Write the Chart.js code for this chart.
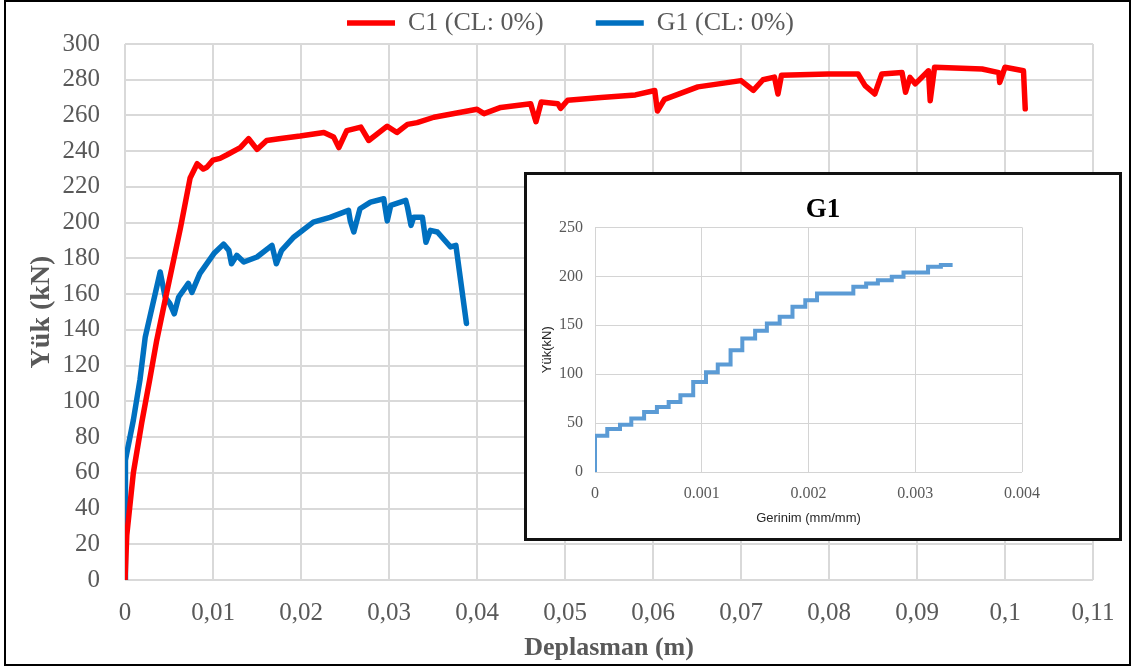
<!DOCTYPE html>
<html>
<head>
<meta charset="utf-8">
<title>Yük - Deplasman</title>
<script src="https://cdn.jsdelivr.net/npm/chart.js@4.4.1/dist/chart.umd.min.js"></script>
<style>
  html, body { margin: 0; padding: 0; background: #fff; }
  #wrap { position: relative; width: 1136px; height: 668px; overflow: hidden; }
  #mainChart { position: absolute; left: 0; top: 0; }
  #frame { position: absolute; left: 4px; top: 0; width: 1123px; height: 662px; border: 2px solid #000; pointer-events: none; }
  #insetBox { position: absolute; left: 524px; top: 172px; width: 592px; height: 363px; border: 3px solid #111; background: #fff; }
</style>
</head>
<body>
<div id="wrap">
  <canvas id="mainChart" width="1136" height="668"></canvas>
  <div id="insetBox"><canvas id="insetChart" width="592" height="363"></canvas></div>
  <div id="frame"></div>
</div>
<script>
// main chart: load vs displacement
const mainXTicks = [0, 0.01, 0.02, 0.03, 0.04, 0.05, 0.06, 0.07, 0.08, 0.09, 0.1, 0.11];
const mainXLabels = ['0', '0,01', '0,02', '0,03', '0,04', '0,05', '0,06', '0,07', '0,08', '0,09', '0,1', '0,11'];
const mainYTicks = [0, 20, 40, 60, 80, 100, 120, 140, 160, 180, 200, 220, 240, 260, 280, 300];

const c1X = [0, 0.0002, 0.0005, 0.00095, 0.0019, 0.0028, 0.0036, 0.0047, 0.0063, 0.0074, 0.0082, 0.0089, 0.0093,
    0.0100, 0.0108, 0.0116, 0.0131, 0.01405, 0.0150, 0.0161, 0.0175, 0.0199, 0.0226, 0.0237, 0.0243, 0.0252,
    0.0268, 0.0277, 0.0298, 0.0309, 0.0321, 0.0332, 0.0351, 0.0400, 0.0408, 0.0427, 0.0461, 0.0467, 0.0473,
    0.0492, 0.0495, 0.0503, 0.0541, 0.0580, 0.0602, 0.0605, 0.0613, 0.0651, 0.0700, 0.0714, 0.0725, 0.0738,
    0.0742, 0.0746, 0.0799, 0.0833, 0.0841, 0.0852, 0.0860, 0.0883, 0.0887, 0.0892, 0.0898, 0.0913, 0.0915,
    0.0920, 0.0974, 0.0993, 0.0994, 0.1000, 0.1021, 0.1023];
const c1Y = [0, 25, 39, 60, 88, 112, 134, 160, 197, 225, 233, 230, 231,
    235, 236, 238, 242, 247, 241, 246, 247, 248.5, 250.5, 248, 242, 251.5,
    253.5, 246, 254, 250.5, 255, 256, 259, 263.5, 261, 264.5, 266.5, 256.5, 267.5,
    266.5, 264, 268.5, 270, 271.5, 274, 262.5, 269, 276, 279.5, 274, 280, 281.5,
    272, 282.5, 283.2, 283.2, 276.7, 272, 283.2, 284, 273, 281.3, 277.7, 285, 268.3,
    287, 286, 284, 278.5, 287, 285, 263.7];

const g1X = [0, 0.00005, 0.0002, 0.00095, 0.0017, 0.0023, 0.0040, 0.00456, 0.0051, 0.0056, 0.0061, 0.0072, 0.0076,
    0.0085, 0.0101, 0.0112, 0.0118, 0.0121, 0.0127, 0.0135, 0.0150, 0.0167, 0.0172, 0.0178, 0.0192, 0.0214,
    0.0233, 0.0254, 0.0256, 0.0260, 0.0267, 0.0279, 0.0294, 0.0298, 0.0302, 0.0319, 0.0321, 0.0325, 0.0328,
    0.0338, 0.0342, 0.0347, 0.0355, 0.0370, 0.0376, 0.0388];
const g1Y = [0, 67, 71, 89.5, 112, 136, 172.4, 158.4, 154.7, 149, 158.4, 166, 161,
    171.5, 182.7, 188, 184.5, 177, 181.7, 178, 180.8, 187.3, 177, 184.5, 192, 200.3,
    203, 206.9, 201, 194.8, 207.8, 211.5, 213.4, 201, 209.7, 212.5, 208.7, 198.5, 203,
    203, 189, 195.7, 194.8, 186.4, 187.3, 143.6];

// inset chart: G1 load vs strain (stepped)
const insetXTicks = [0, 0.001, 0.002, 0.003, 0.004];
const insetXLabels = ['0', '0.001', '0.002', '0.003', '0.004'];
const insetYTicks = [0, 50, 100, 150, 200, 250];

const strainX = [0, 0, 0.000115, 0.000234, 0.00034, 0.00046, 0.00058, 0.00069, 0.0008, 0.00092, 0.00104,
    0.00115, 0.00127, 0.00138, 0.0015, 0.00161, 0.00173, 0.00185, 0.00197, 0.00208, 0.00242, 0.00254,
    0.00265, 0.00278, 0.00289, 0.00312, 0.00324, 0.00335];
const strainY = [0, 37, 44, 48.4, 54.6, 61.4, 66.5, 71.6, 78.4, 92, 102,
    110, 124.5, 136.4, 144.3, 151.8, 158.6, 168.8, 175.6, 182.5, 189.3, 192.7,
    196, 199.5, 204, 209.8, 211.5, 211.5];

const GRAY = '#595959';
const SERIF = 'Liberation Serif';

function toPoints(xs, ys) {
    return xs.map((x, i) => ({ x: x, y: ys[i] }));
}

function fixedTicks(values) {
    return scale => { scale.ticks = values.map(v => ({ value: v })); };
}

// keeps the legend at a set height and lifts it so the row sits near the top
const legendBoxPlugin = {
    id: 'legendBox',
    beforeUpdate(chart) {
        const legend = chart.legend;
        if (legend && !legend._fixedFit) {
            const fit = legend.fit;
            legend.fit = function () {
                fit.call(this);
                this.height = 44;
            };
            legend._fixedFit = true;
        }
    },
    afterLayout(chart) {
        chart.legend.top -= 42;
        chart.legend.left += 24; // nudge the row right, like the original
        chart.legend.right += 24;
    }
};

function renderMainChart() {
    const ctx = document.getElementById('mainChart').getContext('2d');
    return new Chart(ctx, {
        type: 'line',
        data: {
            datasets: [{
                label: 'C1 (CL: 0%)',
                data: toPoints(c1X, c1Y),
                borderColor: '#FF0000',
                backgroundColor: '#FF0000',
                borderWidth: 5.5,
                borderCapStyle: 'round',
                borderJoinStyle: 'round',
                pointRadius: 0,
                tension: 0
            }, {
                label: 'G1 (CL: 0%)',
                data: toPoints(g1X, g1Y),
                borderColor: '#0070C0',
                backgroundColor: '#0070C0',
                borderWidth: 5.5,
                borderCapStyle: 'round',
                borderJoinStyle: 'round',
                pointRadius: 0,
                tension: 0
            }]
        },
        options: {
            responsive: false,
            animation: false,
            layout: { padding: { top: 0, left: 0, right: 43, bottom: 0 } },
            plugins: {
                tooltip: { enabled: false },
                legend: {
                    position: 'top',
                    labels: {
                        usePointStyle: true,
                        pointStyle: 'line',
                        pointStyleWidth: 48,
                        padding: 52,
                        color: GRAY,
                        font: { family: SERIF, size: 26 }
                    }
                }
            },
            scales: {
                x: {
                    type: 'linear',
                    min: 0,
                    max: 0.11,
                    afterBuildTicks: fixedTicks(mainXTicks),
                    afterFit: scale => { scale.height = 88; },
                    grid: { color: '#d9d9d9', lineWidth: 2, drawTicks: false },
                    border: { display: false },
                    ticks: {
                        callback: (v, i) => mainXLabels[i],
                        color: GRAY,
                        font: { family: SERIF, size: 25 },
                        padding: 18,
                        maxRotation: 0,
                        autoSkip: false
                    },
                    title: {
                        display: true,
                        text: 'Deplasman (m)',
                        color: GRAY,
                        font: { family: SERIF, size: 26, weight: 'bold' },
                        padding: { top: 0, bottom: 4 }
                    }
                },
                y: {
                    type: 'linear',
                    min: 0,
                    max: 300,
                    afterBuildTicks: fixedTicks(mainYTicks),
                    afterFit: scale => { scale.width = 125; },
                    grid: { color: '#d9d9d9', lineWidth: 2, drawTicks: false },
                    border: { display: false },
                    ticks: {
                        color: GRAY,
                        font: { family: SERIF, size: 25 },
                        padding: 25,
                        autoSkip: false
                    },
                    title: {
                        display: true,
                        text: 'Yük (kN)',
                        color: GRAY,
                        font: { family: SERIF, size: 28, weight: 'bold' },
                        padding: { top: 25, bottom: 0 }
                    }
                }
            }
        },
        plugins: [legendBoxPlugin]
    });
}

// title block spans the whole inset, not only the plot
const insetTitlePlugin = {
    id: 'insetTitle',
    afterLayout(chart) {
        chart.titleBlock.left = 0;
        chart.titleBlock.right = chart.width;
    }
};

function renderInsetChart() {
    const ctx = document.getElementById('insetChart').getContext('2d');
    return new Chart(ctx, {
        type: 'line',
        data: {
            datasets: [{
                label: 'G1',
                data: toPoints(strainX, strainY),
                borderColor: '#5B9BD5',
                borderWidth: 4,
                stepped: true,
                pointRadius: 0
            }]
        },
        options: {
            responsive: false,
            animation: false,
            layout: { padding: { top: 18, left: 0, right: 97, bottom: 0 } },
            plugins: {
                tooltip: { enabled: false },
                legend: { display: false },
                title: {
                    display: true,
                    text: 'G1',
                    color: '#000',
                    font: { family: SERIF, size: 27, weight: 'bold' },
                    padding: { top: 1, bottom: 1 }
                }
            },
            scales: {
                x: {
                    type: 'linear',
                    min: 0,
                    max: 0.004,
                    afterBuildTicks: fixedTicks(insetXTicks),
                    afterFit: scale => { scale.height = 66; },
                    grid: { color: '#d4d4d4', lineWidth: 1, drawTicks: false },
                    border: { display: false },
                    ticks: {
                        callback: (v, i) => insetXLabels[i],
                        color: GRAY,
                        font: { family: SERIF, size: 16 },
                        padding: 12,
                        maxRotation: 0,
                        autoSkip: false
                    },
                    title: {
                        display: true,
                        text: 'Gerinim (mm/mm)',
                        color: '#262626',
                        font: { family: 'Liberation Sans', size: 13 },
                        padding: { top: 0, bottom: 12 }
                    }
                },
                y: {
                    type: 'linear',
                    min: 0,
                    max: 250,
                    afterBuildTicks: fixedTicks(insetYTicks),
                    afterFit: scale => { scale.width = 68; },
                    grid: { color: '#d4d4d4', lineWidth: 1, drawTicks: false },
                    border: { display: false },
                    ticks: {
                        color: GRAY,
                        font: { family: SERIF, size: 16 },
                        padding: 12,
                        autoSkip: false
                    },
                    title: {
                        display: true,
                        text: 'Yük(kN)',
                        color: '#262626',
                        font: { family: 'Liberation Sans', size: 13 },
                        padding: { top: 13, bottom: 0 }
                    }
                }
            }
        },
        plugins: [insetTitlePlugin]
    });
}

renderMainChart();
renderInsetChart();
</script>
</body>
</html>
